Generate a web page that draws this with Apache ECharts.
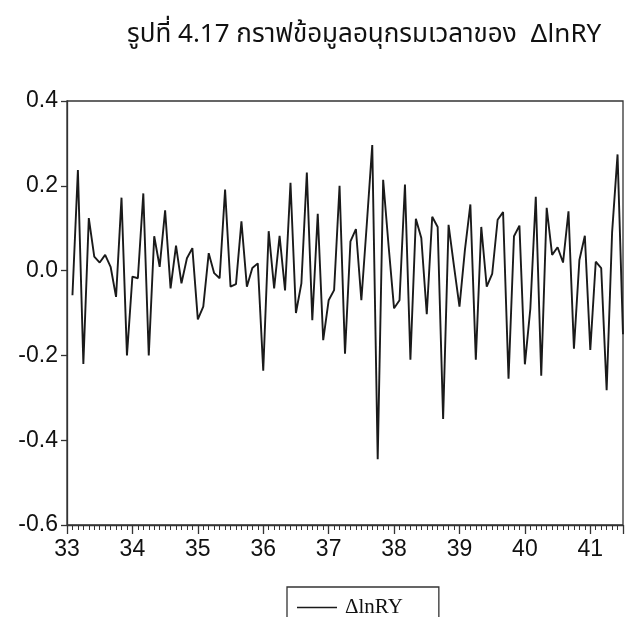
<!DOCTYPE html>
<html>
<head>
<meta charset="utf-8">
<script src="https://cdn.jsdelivr.net/npm/echarts@6/dist/echarts.min.js"></script>
<style>
html,body{margin:0;padding:0;background:#fff;}
#chart{width:625px;height:617px;}
</style>
</head>
<body>
<div id="chart"></div>
<script>
// Monthly series: first observation is the 2nd month of year 33 (first difference)
const startYear = 33;
const startMonthIndex = 1;      // months after start of year 33
const periodsPerYear = 12;
const seriesName = 'ΔlnRY';
const titleText = 'รูปที่ 4.17 กราฟข้อมูลอนุกรมเวลาของ  ΔlnRY';
const yTickLabels = ['-0.6', '-0.4', '-0.2', '0.0', '0.2', '0.4'];
const xTickLabels = ['33', '34', '35', '36', '37', '38', '39', '40', '41'];
const dlnRY = [
  -0.058, 0.237, -0.220, 0.124, 0.033, 0.019, 0.037, 0.009, -0.062, 0.172,
  -0.200, -0.014, -0.018, 0.182, -0.200, 0.081, 0.009, 0.142, -0.042, 0.059,
  -0.030, 0.029, 0.053, -0.115, -0.085, 0.041, -0.006, -0.018, 0.191, -0.038,
  -0.032, 0.116, -0.038, 0.006, 0.017, -0.236, 0.093, -0.042, 0.082, -0.047,
  0.207, -0.100, -0.030, 0.231, -0.117, 0.134, -0.164, -0.070, -0.046, 0.200,
  -0.196, 0.069, 0.098, -0.070, 0.110, 0.296, -0.445, 0.214, 0.058, -0.089,
  -0.070, 0.203, -0.210, 0.122, 0.077, -0.103, 0.127, 0.103, -0.350, 0.108,
  0.010, -0.085, 0.049, 0.156, -0.210, 0.103, -0.038, -0.008, 0.120, 0.138,
  -0.255, 0.081, 0.106, -0.221, -0.090, 0.174, -0.248, 0.148, 0.037, 0.055,
  0.019, 0.140, -0.184, 0.025, 0.082, -0.187, 0.021, 0.006, -0.282, 0.090,
  0.274, -0.150
];

const points = dlnRY.map((v, i) => [startYear + (startMonthIndex + i) / periodsPerYear, v]);

const chart = echarts.init(document.getElementById('chart'), null, {renderer: 'canvas'});
chart.setOption({
  animation: false,
  backgroundColor: '#ffffff',
  title: {
    text: titleText,
    left: 122,
    top: 19,
    textStyle: {
      fontFamily: '"Noto Sans Thai", "Loma", "Garuda", Arial, "Liberation Sans", sans-serif',
      fontSize: 26,
      fontWeight: 'normal',
      color: '#111'
    }
  },
  grid: {
    left: 67, right: 2, top: 101, bottom: 92,
    show: true, borderColor: '#333', borderWidth: 1.3, containLabel: false
  },
  legend: {
    data: [seriesName],
    left: 287,
    top: 587,
    width: 159,
    itemWidth: 40,
    itemHeight: 1.5,
    icon: 'rect',
    itemGap: 0,
    padding: [10, 36, 40, 10],
    borderColor: '#333',
    borderWidth: 1.3,
    textStyle: {
      fontFamily: '"Liberation Serif", "Times New Roman", serif',
      fontSize: 21,
      color: '#111',
      padding: [0, 0, 0, 3]
    }
  },
  xAxis: {
    type: 'value',
    min: 33,
    max: 41.5,
    interval: 1,
    axisLine: {show: true, onZero: false, lineStyle: {color: '#333', width: 1.3}},
    axisTick: {show: true, inside: false, length: 9, lineStyle: {color: '#333', width: 1.3}},
    minorTick: {show: true, splitNumber: 12, length: 5, lineStyle: {color: '#333', width: 1}},
    splitLine: {show: false},
    minorSplitLine: {show: false},
    axisLabel: {
      showMaxLabel: false,
      margin: 13,
      fontFamily: 'Arial, "Liberation Sans", sans-serif',
      fontSize: 23,
      color: '#111',
      formatter: function (v) {
        const idx = xTickLabels.indexOf(String(Math.round(v)));
        return idx >= 0 && Math.abs(v - Math.round(v)) < 1e-6 ? xTickLabels[idx] : '';
      }
    }
  },
  yAxis: {
    type: 'value',
    min: -0.6,
    max: 0.4,
    interval: 0.2,
    axisLine: {show: true, lineStyle: {color: '#333', width: 1.3}},
    axisTick: {show: true, inside: false, length: 6, lineStyle: {color: '#333', width: 1.3}},
    splitLine: {show: false},
    axisLabel: {
      margin: 9,
      fontFamily: 'Arial, "Liberation Sans", sans-serif',
      fontSize: 23,
      color: '#111',
      formatter: function (v) {
        const s = v.toFixed(1);
        const idx = yTickLabels.indexOf(s === '-0.0' ? '0.0' : s);
        return idx >= 0 ? yTickLabels[idx] : s;
      }
    }
  },
  series: [{
    name: seriesName,
    type: 'line',
    data: points,
    symbol: 'none',
    lineStyle: {color: '#1a1a1a', width: 1.9},
    itemStyle: {color: '#1a1a1a'}
  }]
});
</script>
</body>
</html>
